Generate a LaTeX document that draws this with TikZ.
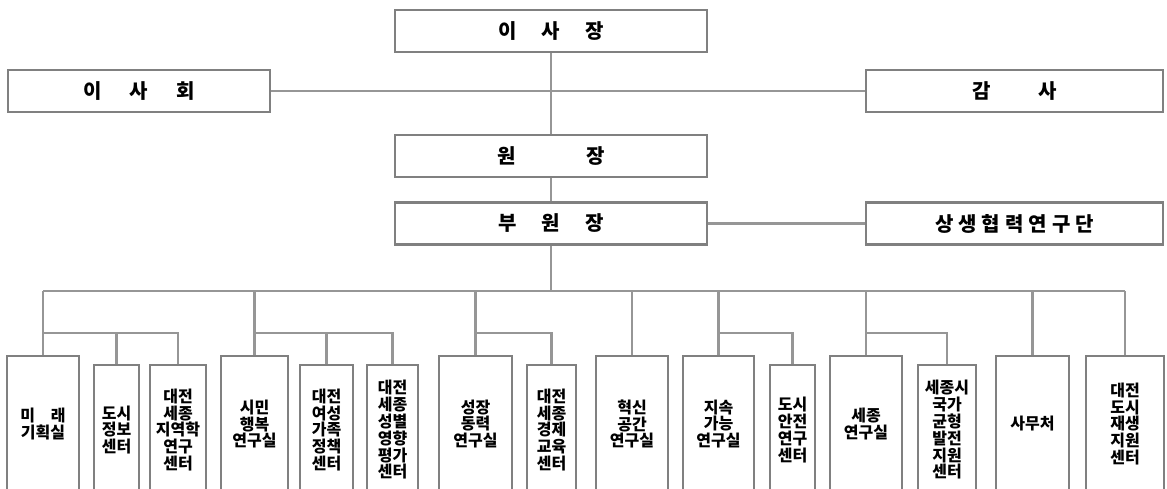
\documentclass[tikz,border=0pt]{standalone}
\usepackage{fontspec}
\newfontfamily\kr{Noto Sans CJK KR}
\definecolor{boxc}{RGB}{128,128,128}
\definecolor{linec}{RGB}{150,150,150}
\tikzset{
  topbox/.style={draw=boxc, line width=2.6pt, fill=white, inner sep=0pt, align=center,
    minimum height=42pt, font=\kr\bfseries\fontsize{20}{22}\selectfont},
  bigbox/.style={draw=boxc, line width=2.6pt, fill=white, inner sep=0pt, align=center,
    minimum height=136pt, font=\kr\bfseries\fontsize{16}{16.8}\selectfont},
  smallbox/.style={draw=boxc, line width=2.6pt, fill=white, inner sep=0pt, align=center,
    minimum height=130pt, font=\kr\bfseries\fontsize{16}{16.8}\selectfont},
  conn/.style={draw=linec, line width=2.3pt}
}
\begin{document}
\begin{tikzpicture}[x=1pt,y=-1pt]
\useasboundingbox (0,0) rectangle (1167,488);
\clip (0,0) rectangle (1167,488);
\coordinate (busY) at (0,291);
\coordinate (subY) at (0,333);

% top
\node[topbox, minimum width=312pt] (cha) at (551,31) {이\hspace{25pt}사\hspace{25pt}장};
\node[topbox, minimum width=262pt] (bod) at (139,91) {이\hspace{28pt}사\hspace{28pt}회};
\node[topbox, minimum width=297pt] (aud) at (1014.5,91) {감\hspace{47pt}사};
\node[topbox, minimum width=312pt] (pres) at (551,156) {원\hspace{70pt}장};
\node[topbox, minimum width=312pt] (vp) at (551,223.5) {부\hspace{25pt}원\hspace{25pt}장};
\node[topbox, minimum width=297pt] (sang) at (1014.5,223.5) {상\hspace{5pt}생\hspace{5pt}협\hspace{5pt}력\hspace{5pt}연\hspace{5pt}구\hspace{5pt}단};

% bottom big
\node[bigbox, minimum width=72pt] (mirae) at (43,424) {미\hspace{16pt}래\\기획실};
\node[bigbox, minimum width=67pt] (simin) at (254.5,424) {시민\\행복\\연구실};
\node[bigbox, minimum width=73pt] (seongjang) at (475.5,424) {성장\\동력\\연구실};
\node[bigbox, minimum width=72pt] (hyeoksin) at (632,424) {혁신\\공간\\연구실};
\node[bigbox, minimum width=71pt] (jisok) at (718.5,424) {지속\\가능\\연구실};
\node[bigbox, minimum width=72pt] (sejong) at (866,424) {세종\\연구실};
\node[bigbox, minimum width=73pt] (samu) at (1032.5,424) {사무처};
\node[bigbox, minimum width=78pt] (jaesaeng) at (1125,424) {대전\\도시\\재생\\지원\\센터};

% bottom small
\node[smallbox, minimum width=45pt] (dosi) at (116.5,430) {도시\\정보\\센터};
\node[smallbox, minimum width=56pt] (jiyeok) at (178,430) {대전\\세종\\지역학\\연구\\센터};
\node[smallbox, minimum width=53pt] (yeoseong) at (326.5,430) {대전\\여성\\가족\\정책\\센터};
\node[smallbox, minimum width=51pt] (seongbyeol) at (392.5,430) {대전\\세종\\성별\\영향\\평가\\센터};
\node[smallbox, minimum width=49pt] (gyeongje) at (551.5,430) {대전\\세종\\경제\\교육\\센터};
\node[smallbox, minimum width=45pt] (anjeon) at (792.5,430) {도시\\안전\\연구\\센터};
\node[smallbox, minimum width=58pt] (gukga) at (947,430) {세종시\\국가\\균형\\발전\\지원\\센터};

% upper connectors
\draw[conn] (cha.south) -- (pres.north);
\draw[conn] (bod.east) -- (aud.west);
\draw[conn] (pres.south) -- (vp.north);
\draw[conn] (vp.east) -- (sang.west);
\draw[conn] (vp.south) -- (vp.south |- busY);

% main bus
\draw[conn] (mirae.north |- busY) -- (jaesaeng.north |- busY);
\foreach \b in {mirae,simin,seongjang,hyeoksin,jisok,sejong,samu,jaesaeng}
  \draw[conn] (\b.north |- busY) -- (\b.north);

% sub buses
\draw[conn] (mirae.north |- subY) -| (jiyeok.north);
\draw[conn] (dosi.north |- subY) -- (dosi.north);
\draw[conn] (simin.north |- subY) -| (seongbyeol.north);
\draw[conn] (yeoseong.north |- subY) -- (yeoseong.north);
\draw[conn] (seongjang.north |- subY) -| (gyeongje.north);
\draw[conn] (jisok.north |- subY) -| (anjeon.north);
\draw[conn] (sejong.north |- subY) -| (gukga.north);
\end{tikzpicture}
\end{document}
